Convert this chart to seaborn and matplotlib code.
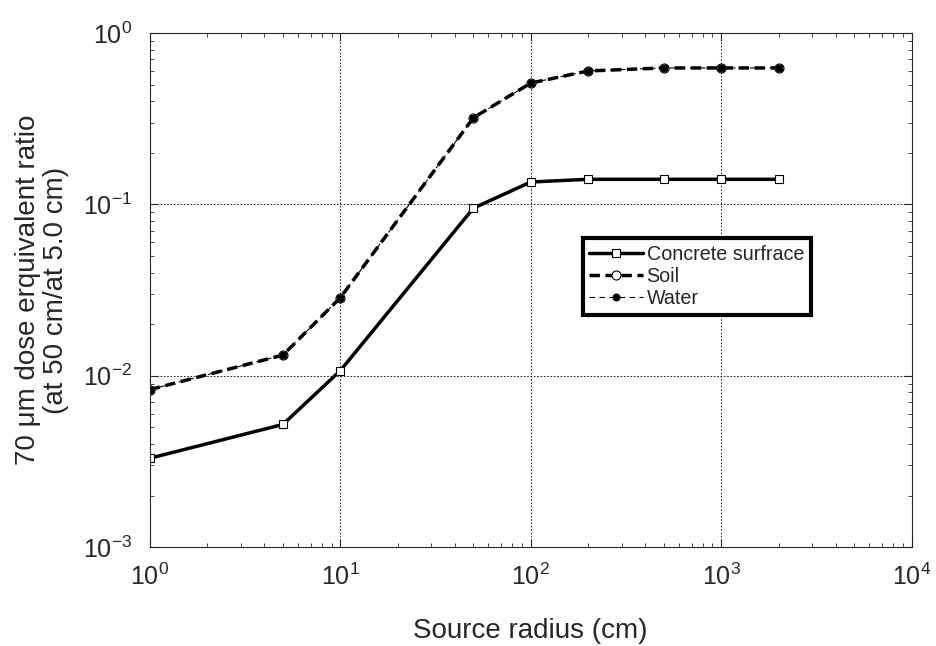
import matplotlib
matplotlib.use("Agg")
import matplotlib.pyplot as plt
import pandas as pd
import seaborn as sns
from matplotlib.ticker import LogLocator, NullFormatter

radius = [1, 5, 10, 50, 100, 200, 500, 1000, 2000]
concrete = [0.0033, 0.0052, 0.0107, 0.095, 0.135, 0.14, 0.14, 0.14, 0.14]
soil = [0.0083, 0.0132, 0.0285, 0.32, 0.51, 0.60, 0.625, 0.625, 0.625]
water = [0.0083, 0.0132, 0.0285, 0.32, 0.51, 0.60, 0.625, 0.625, 0.625]

sns.set_style("ticks")
plt.rcParams["font.family"] = ["Liberation Sans", "DejaVu Sans"]
plt.rcParams["mathtext.fontset"] = "custom"
plt.rcParams["mathtext.rm"] = "Liberation Sans"

df = pd.DataFrame({"radius": radius, "concrete": concrete, "soil": soil, "water": water})

fig = plt.figure(figsize=(9.36, 6.46), dpi=100)
ax = fig.add_axes([0.160, 0.153, 0.814, 0.796])

sns.lineplot(data=df, x="radius", y="concrete", ax=ax, color="black", lw=2.5,
             marker="s", markersize=6, markerfacecolor="white",
             markeredgecolor="black", markeredgewidth=0.8, label="Concrete surfrace")
sns.lineplot(data=df, x="radius", y="soil", ax=ax, color="black", lw=2.5,
             linestyle=(0, (3, 1.6)), marker="o", markersize=6.5,
             markerfacecolor="white", markeredgecolor="black",
             markeredgewidth=0.8, label="Soil")
sns.lineplot(data=df, x="radius", y="water", ax=ax, color="black", lw=0.8,
             linestyle=(0, (5, 4)), marker="o", markersize=5,
             markerfacecolor="black", markeredgecolor="black", label="Water")

ax.set_xscale("log")
ax.set_yscale("log")
ax.set_xlim(1, 1e4)
ax.set_ylim(1e-3, 1)

ax.xaxis.set_minor_locator(LogLocator(base=10, subs=range(2, 10)))
ax.yaxis.set_minor_locator(LogLocator(base=10, subs=range(2, 10)))
ax.xaxis.set_minor_formatter(NullFormatter())
ax.yaxis.set_minor_formatter(NullFormatter())
ax.tick_params(which="both", direction="in", top=True, right=True, labelsize=18)
ax.tick_params(which="major", length=6, width=0.8)
ax.tick_params(which="minor", length=3, width=0.6)
ax.tick_params(axis="x", which="major", pad=12)
ax.tick_params(axis="y", which="major", pad=13)
for s in ax.spines.values():
    s.set_linewidth(0.8)

ax.grid(True, which="major", linestyle=(0, (2, 2)), color="black", lw=0.6)

ax.set_xlabel("Source radius (cm)", fontsize=20, labelpad=20)
ax.set_ylabel("70 μm dose erquivalent ratio\n(at 50 cm/at 5.0 cm)", fontsize=20,
              labelpad=10, linespacing=1.1)

leg = ax.legend(loc="upper left", bbox_to_anchor=(0.568, 0.601), fontsize=14.2,
                frameon=True, fancybox=False, framealpha=1, edgecolor="black",
                handlelength=2.7, handletextpad=0.2, borderpad=0.35,
                labelspacing=0.15, borderaxespad=0)
leg.get_frame().set_linewidth(3)

plt.savefig("out.png", dpi=100)
plt.close()
